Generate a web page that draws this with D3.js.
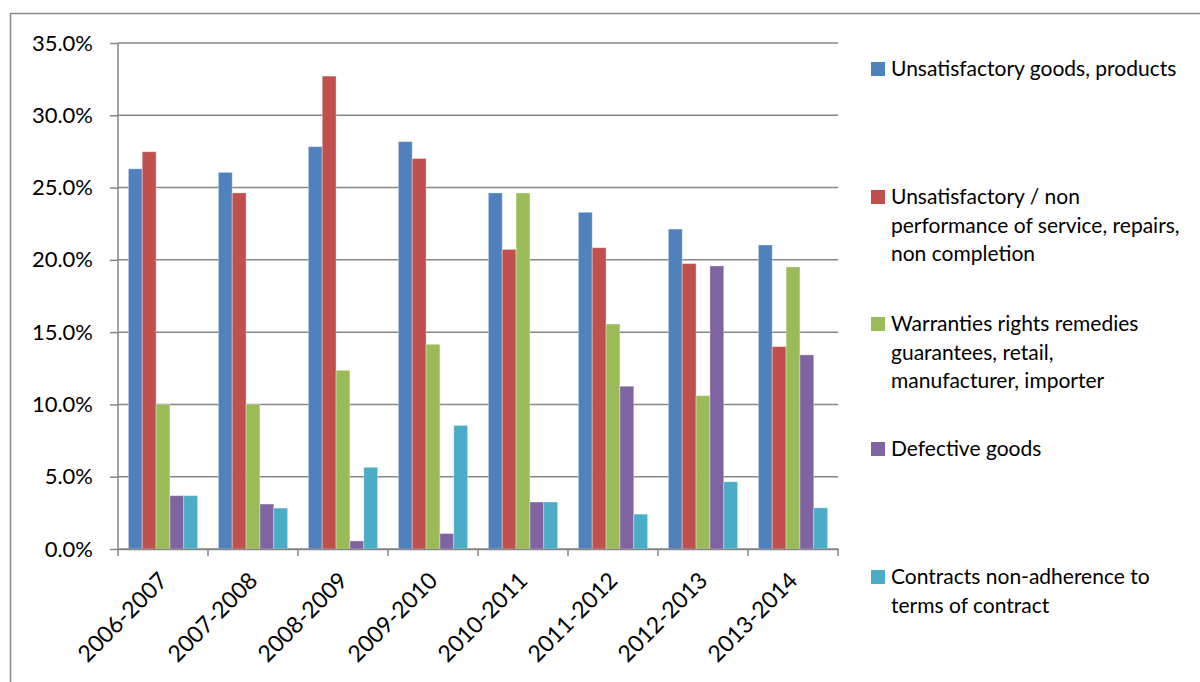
<!DOCTYPE html>
<html><head><meta charset="utf-8">
<script src="https://cdn.jsdelivr.net/npm/d3@7"></script>
<style>
html,body{margin:0;padding:0;background:#fff;}
svg{display:block;}
text{font-family:Lato,"Open Sans",sans-serif;fill:#000;}
</style></head>
<body>
<script>
const categories = ["2006-2007","2007-2008","2008-2009","2009-2010","2010-2011","2011-2012","2012-2013","2013-2014"];
const seriesNames = [
  ["Unsatisfactory goods, products"],
  ["Unsatisfactory / non","performance of service, repairs,","non completion"],
  ["Warranties rights remedies","guarantees, retail,","manufacturer, importer"],
  ["Defective goods"],
  ["Contracts non-adherence to","terms of contract"]
];
const unsatisfactoryGoods = [0.263,0.2605,0.2783,0.2818,0.2463,0.2329,0.2213,0.2103];
const unsatisfactoryService = [0.2748,0.2463,0.3271,0.2701,0.2072,0.2084,0.1974,0.1400];
const warranties = [0.100,0.100,0.1236,0.1416,0.2463,0.1556,0.1061,0.1951];
const defectiveGoods = [0.0369,0.0311,0.0056,0.0107,0.0325,0.1126,0.1958,0.1343];
const contracts = [0.0369,0.0283,0.0565,0.0855,0.0325,0.0241,0.0465,0.0285];
const seriesValues = [unsatisfactoryGoods, unsatisfactoryService, warranties, defectiveGoods, contracts];
const colors = ["#4F81BD","#C0504D","#9BBB59","#8064A2","#4BACC6"];
const yTicks = [0,0.05,0.10,0.15,0.20,0.25,0.30,0.35];

const W = 1200, H = 682;
const mL = 118, mR = 838, mT = 43, mB = 549;
const svg = d3.select("body").append("svg").attr("width", W).attr("height", H);

// outer frame
svg.append("rect").attr("x",10.5).attr("y",13.5).attr("width",W+20).attr("height",H+20)
  .attr("fill","none").attr("stroke","#898989").attr("stroke-width",1.5);

const x0 = d3.scaleBand().domain(categories).range([mL,mR]).paddingInner(0).paddingOuter(0);
const x1 = d3.scaleBand().domain(d3.range(5)).range([0,x0.bandwidth()]).paddingOuter(0.75).paddingInner(0);
const y = d3.scaleLinear().domain([0,0.35]).range([mB,mT]);

// gridlines + y axis
const yAxis = d3.axisLeft(y).tickValues(yTicks).tickFormat(d3.format(".1%")).tickSize(8).tickPadding(17);
const gy = svg.append("g").attr("transform",`translate(${mL},0)`).call(yAxis);
gy.select(".domain").remove();
gy.selectAll(".tick line").attr("stroke","#868686").attr("stroke-width",1.5);
gy.selectAll(".tick text").attr("font-size",22).attr("font-family","Lato").attr("fill","#000");
svg.append("g").selectAll("line").data(yTicks).join("line")
  .attr("x1",mL).attr("x2",mR).attr("y1",d=>y(d)).attr("y2",d=>y(d))
  .attr("stroke","#868686").attr("stroke-width",1.5);

// bars
const groups = svg.append("g").selectAll("g").data(categories).join("g")
  .attr("transform",d=>`translate(${x0(d)},0)`);
groups.selectAll("rect").data((d,i)=>seriesValues.map((s,k)=>({k,v:s[i]}))).join("rect")
  .attr("x",d=>x1(d.k)).attr("width",x1.bandwidth())
  .attr("y",d=>y(d.v)).attr("height",d=>y(0)-y(d.v))
  .attr("fill",d=>colors[d.k]).attr("stroke","rgba(255,255,255,0.35)").attr("stroke-width",1);

// axes lines
svg.append("line").attr("x1",mL).attr("x2",mL).attr("y1",mT).attr("y2",mB)
  .attr("stroke","#868686").attr("stroke-width",1.5);
const xAxis = d3.axisBottom(x0).tickSize(0).tickFormat("");
const gx = svg.append("g").attr("transform",`translate(0,${mB})`).call(xAxis);
gx.select(".domain").attr("stroke","#868686").attr("stroke-width",1.5);
const boundaries = categories.map(c=>x0(c)).concat([mR]);
svg.append("g").selectAll("line").data(boundaries).join("line")
  .attr("x1",d=>d).attr("x2",d=>d).attr("y1",mB).attr("y2",mB+7)
  .attr("stroke","#868686").attr("stroke-width",1.5);
svg.append("g").selectAll("text").data(categories).join("text")
  .attr("transform",d=>`translate(${x0(d)+x0.bandwidth()/2+6},${mB+33}) rotate(-45)`)
  .attr("text-anchor","end").attr("font-size",23).text(d=>d);

// legend
const legendY = [69,197,324,449,577];
const lg = svg.append("g").selectAll("g").data(seriesNames).join("g")
  .attr("transform",(d,i)=>`translate(871,${legendY[i]})`);
lg.append("rect").attr("x",0).attr("y",-7).attr("width",14).attr("height",14).attr("fill",(d,i)=>colors[i]);
lg.each(function(lines){
  const t = d3.select(this).append("text").attr("x",20).attr("font-size",21);
  lines.forEach((ln,j)=>t.append("tspan").attr("x",20).attr("y",j*28.5).attr("dy","0.35em").text(ln));
});
</script>
</body></html>
